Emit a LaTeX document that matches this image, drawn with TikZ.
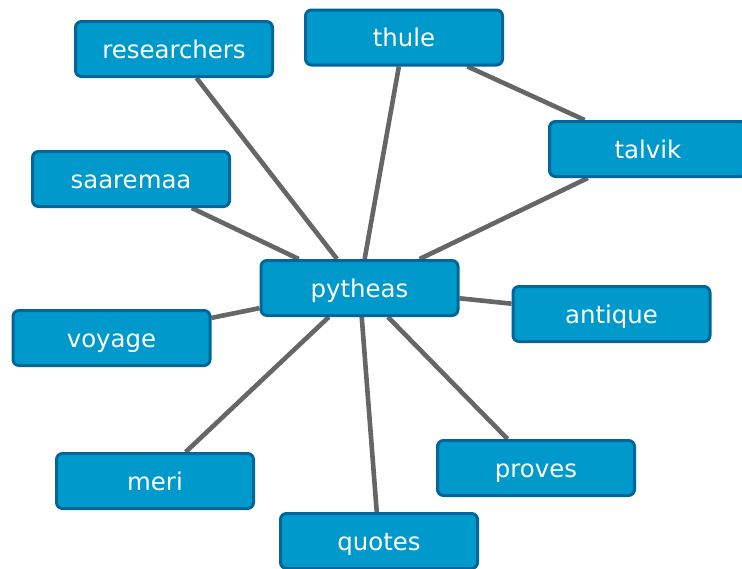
\documentclass[tikz,border=0pt]{standalone}
\usepackage{fontspec}
\setmainfont{DejaVu Sans}
\usetikzlibrary{backgrounds}
\definecolor{boxfill}{HTML}{0099CC}
\definecolor{boxline}{HTML}{006699}
\definecolor{linkgray}{HTML}{666666}

\begin{document}
\begin{tikzpicture}[
  x=1pt,
  y=-1pt,
  word box/.style={
    draw=boxline,
    fill=boxfill,
    line width=3pt,
    rounded corners=6pt,
    minimum width=197pt,
    minimum height=55pt,
    text height=18pt,
    text depth=0pt,
    text=white,
    font=\fontsize{24.4}{29}\selectfont
  },
  word link/.style={
    linkgray,
    line width=4.6pt
  },
]
\clip (0,0) rectangle (742,568);
\useasboundingbox (0,0) rectangle (742,568);

\node[word box] (pytheas) at (359.5,288) {pytheas};
\node[word box] (researchers) at (174,49) {researchers};
\node[word box] (thule) at (404,37.5) {thule};
\node[word box] (talvik) at (648,149) {talvik};
\node[word box] (saaremaa) at (131,179) {saaremaa};
\node[word box] (antique) at (611.5,314) {antique};
\node[word box] (voyage) at (111.5,338) {voyage};
\node[word box] (meri) at (155,481) {meri};
\node[word box] (proves) at (536,468) {proves};
\node[word box] (quotes) at (379,541) {quotes};

\begin{scope}[on background layer]
  \foreach \other in {researchers,thule,talvik,saaremaa,antique,voyage,meri,proves,quotes}
    \draw[word link] (pytheas) -- (\other);
  \draw[word link] (thule) -- (talvik);
\end{scope}
\end{tikzpicture}
\end{document}
